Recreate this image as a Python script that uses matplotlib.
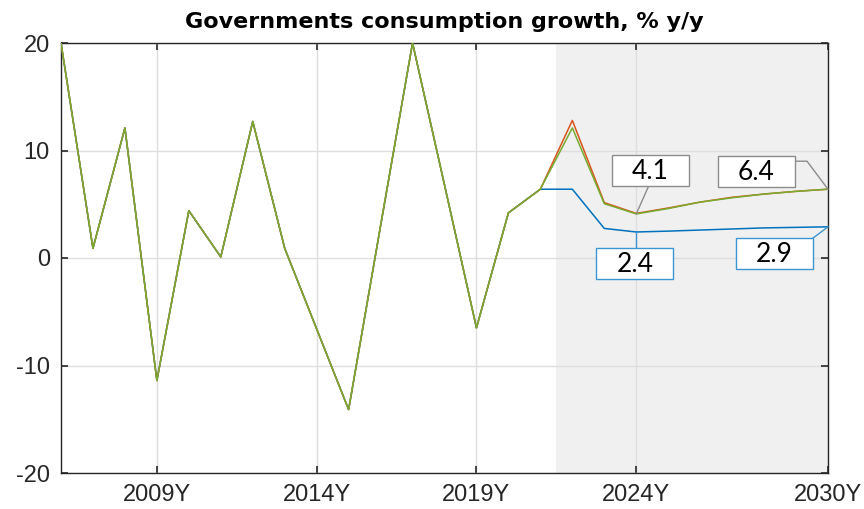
import matplotlib
matplotlib.use("Agg")
import matplotlib.pyplot as plt
from matplotlib.patches import Rectangle
from matplotlib.lines import Line2D
from matplotlib.transforms import IdentityTransform

plt.rcParams["axes.unicode_minus"] = False

# ---------------- data ----------------
years = list(range(2006, 2031))
history = [20.0, 0.9, 12.1, -11.4, 4.4, 0.1, 12.7, 0.9, -6.6, -14.1, 3.0,
           20.0, 6.8, -6.5, 4.2, 6.4]                     # 2006..2021
fc_orange = [12.8, 5.15, 4.15, 4.65, 5.2, 5.65, 5.95, 6.2, 6.4]  # 2022..2030
fc_green = [12.1, 5.05, 4.1, 4.6, 5.2, 5.6, 5.95, 6.2, 6.4]
fc_blue = [6.4, 2.75, 2.42, 2.5, 2.6, 2.7, 2.8, 2.85, 2.9]
series_blue = history + fc_blue
series_orange = history + fc_orange
series_green = history + fc_green

xticks = [2009, 2014, 2019, 2024, 2030]
xticklabels = ["2009Y", "2014Y", "2019Y", "2024Y", "2030Y"]
yticks = [-20, -10, 0, 10, 20]
forecast_start = 2021.5
title = "Governments consumption growth, % y/y"

C_BLUE = "#0072BD"
C_ORANGE = "#D95319"
C_GREEN = "#77AC30"

# ---------------- figure ----------------
W, H = 864, 509
fig = plt.figure(figsize=(W / 100, H / 100), dpi=100)
ax = fig.add_axes([61 / W, 1 - 473 / H, (828 - 61) / W, (473 - 43) / H])

ax.axvspan(forecast_start, years[-1], color="#f0f0f0", zorder=0.1, lw=0)
ax.set_axisbelow(True)
ax.grid(True, color="#dedede", lw=1.0)

ax.plot(years, series_blue, color=C_BLUE, lw=1.1, zorder=3)
ax.plot(years, series_orange, color=C_ORANGE, lw=1.1, zorder=4)
ax.plot(years, series_green, color=C_GREEN, lw=1.1, zorder=5)

ax.set_xlim(years[0], years[-1])
ax.set_ylim(-20, 20)
ax.set_xticks(xticks)
ax.set_xticklabels(xticklabels)
ax.set_yticks(yticks)

for s in ax.spines.values():
    s.set_color("#262626")
    s.set_linewidth(1.0)
ax.tick_params(direction="in", length=5, width=1.2, color="#262626",
               top=True, right=True, labelsize=17, labelcolor="#262626", pad=8)
for lab in ax.get_xticklabels() + ax.get_yticklabels():
    lab.set_family(["Liberation Sans", "DejaVu Sans"])

ax.set_title(title, fontsize=16, fontweight="bold",
             family=["DejaVu Sans"], pad=11)

# ---------------- data tips ----------------
fig.canvas.draw()
ident = IdentityTransform()


def datatip(x, y, text, dx, dy, edge, leader, bw=77, bh=31):
    px, py = ax.transData.transform((x, y))
    cx, cy = px + dx, py + dy
    rect = Rectangle((cx - bw / 2, cy - bh / 2), bw, bh, transform=ident,
                     facecolor="white", edgecolor=edge, lw=1.0, zorder=10,
                     clip_on=False)
    fig.add_artist(rect)
    xs = [px] + [px + a for a, b in leader]
    ys = [py] + [py + b for a, b in leader]
    fig.add_artist(Line2D(xs, ys, transform=ident, color=edge, lw=1.0,
                          zorder=9))
    fig.text(cx, cy - 1, text, transform=ident, ha="center", va="center",
             fontsize=19, family=["Lato", "DejaVu Sans"], color="black",
             zorder=11)


GREY = "#8c8c8c"
TIPBLUE = "#3d95d3"
i24 = years.index(2024)
i30 = years.index(2030)
datatip(2024, series_green[i24], f"{series_green[i24]:.1f}", 14, 43, GREY,
        [(12, 27)])
datatip(2030, series_green[i30], f"{series_green[i30]:.1f}", -72, 18, GREY,
        [(-21, 28), (-34, 28)])
datatip(2024, series_blue[i24], f"{series_blue[i24]:.1f}", -1.5, -32,
        TIPBLUE, [(0, -16.5)])
datatip(2030, series_blue[i30], f"{series_blue[i30]:.1f}", -53.5, -26.5,
        TIPBLUE, [(-16, -12)])

fig.savefig("out.png", dpi=100)
